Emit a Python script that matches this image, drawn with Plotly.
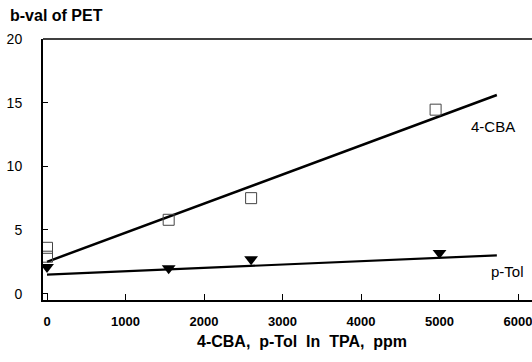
import plotly.graph_objects as go

# data
cba_x = [0, 0, 1550, 2600, 4950]
cba_y = [3.6, 2.9, 5.8, 7.5, 14.45]
tol_x = [0, 1550, 2600, 5000]
tol_y = [2.1, 2.0, 2.7, 3.2]
cba_fit_x = [0, 5730]
cba_fit_y = [2.5, 15.6]
tol_fit_x = [0, 5730]
tol_fit_y = [1.5, 3.0]
x_ticks = [0, 1000, 2000, 3000, 4000, 5000, 6000]
y_ticks = [0, 5, 10, 15, 20]

FONT = "Liberation Sans, Arial, sans-serif"

fig = go.Figure()
fig.add_trace(go.Scatter(x=cba_fit_x, y=cba_fit_y, mode="lines",
                         line=dict(color="black", width=2.5), showlegend=False))
fig.add_trace(go.Scatter(x=tol_fit_x, y=tol_fit_y, mode="lines",
                         line=dict(color="black", width=2.2), showlegend=False))
fig.add_trace(go.Scatter(x=cba_x, y=cba_y, mode="markers",
                         marker=dict(symbol="square-open", size=11, color="#444",
                                     line=dict(width=1)), showlegend=False))
fig.add_trace(go.Scatter(x=tol_x, y=tol_y, mode="markers",
                         marker=dict(symbol="triangle-down", size=12, color="black"),
                         showlegend=False))

fig.add_annotation(x=5675, y=13.1, text="4-CBA", showarrow=False,
                   font=dict(family=FONT, size=15, color="black"))
fig.add_annotation(x=5870, y=1.7, text="p-Tol", showarrow=False,
                   font=dict(family=FONT, size=15, color="black"))
fig.add_annotation(xref="paper", yref="paper", x=-0.072, y=1.05,
                   xanchor="left", yanchor="bottom", text="<b>b-val of PET</b>",
                   showarrow=False, font=dict(family=FONT, size=16, color="black"))
fig.add_annotation(xref="paper", yref="paper", x=0.53, y=-0.12,
                   xanchor="center", yanchor="top",
                   text="<b>4-CBA,  p-Tol  In  TPA,  ppm</b>",
                   showarrow=False, font=dict(family=FONT, size=16, color="black"))

fig.update_xaxes(range=[-51, 6178], tickvals=x_ticks, ticks="inside", ticklen=6,
                 tickcolor="black", showline=True, linecolor="black", linewidth=2,
                 showgrid=False, zeroline=False, automargin=False,
                 ticklabeloverflow="allow",
                 tickfont=dict(family=FONT, size=13, color="black", weight="bold"),
                 ticklabelstandoff=8)
fig.update_yaxes(range=[-0.5, 20], tickvals=y_ticks, ticks="inside", ticklen=5,
                 tickcolor="black", showline=True, linecolor="black", linewidth=2,
                 showgrid=False, zeroline=False, automargin=False,
                 ticklabeloverflow="allow",
                 tickfont=dict(family=FONT, size=14, color="black"),
                 ticklabelstandoff=16)
fig.add_shape(type="line", xref="paper", yref="paper", x0=0, x1=1, y0=1, y1=1,
              line=dict(color="black", width=1.5))

fig.update_layout(width=532, height=362, margin=dict(l=43, r=0, t=39, b=62),
                  plot_bgcolor="white", paper_bgcolor="white", template="none")
fig.write_html("out.html", config={"displayModeBar": False},
               post_script="document.body.style.margin='0';document.body.style.overflow='hidden';")
